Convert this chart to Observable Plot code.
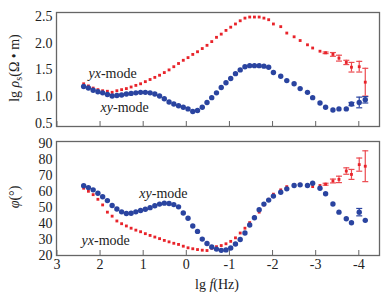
<!DOCTYPE html>
<html><head><meta charset="utf-8">
<script src="https://cdn.jsdelivr.net/npm/d3@7"></script>
<script src="https://cdn.jsdelivr.net/npm/@observablehq/plot@0.6"></script>
<style>
body{margin:0;background:#fff}
#chart{width:392px;height:303px;font-family:"Liberation Serif","Times New Roman",serif}
#chart svg{display:block;font-family:"Liberation Serif","Times New Roman",serif !important}
#chart svg text{font-family:"Liberation Serif","Times New Roman",serif}
</style>
</head><body><div id="chart"></div>
<script>
// log10 frequency (Hz)
const lgf = [2.38, 2.27, 2.16, 2.05, 1.94, 1.83, 1.72, 1.61, 1.50, 1.39,
 1.28, 1.17, 1.06, 0.95, 0.84, 0.73, 0.62, 0.51, 0.40, 0.29,
 0.18, 0.07, -0.04, -0.15, -0.26, -0.37, -0.48, -0.59, -0.70, -0.81,
 -0.92, -1.03, -1.14, -1.25, -1.36, -1.47, -1.58, -1.69, -1.80, -1.91,
 -2.02, -2.19, -2.33, -2.50, -2.64, -2.81, -2.93, -3.10, -3.23, -3.40,
 -3.54, -3.71, -3.83, -4.01, -4.15];
// lg apparent resistivity, yx-mode
const rhoYX = [1.24, 1.20, 1.16, 1.13, 1.11, 1.10, 1.08, 1.11, 1.13, 1.15,
 1.18, 1.21, 1.24, 1.28, 1.32, 1.36, 1.40, 1.45, 1.50, 1.56,
 1.62, 1.68, 1.73, 1.79, 1.84, 1.90, 1.96, 2.03, 2.11, 2.17,
 2.24, 2.30, 2.36, 2.42, 2.47, 2.49, 2.49, 2.49, 2.47, 2.44,
 2.36, 2.31, 2.19, 2.12, 2.05, 1.97, 1.91, 1.85, 1.82, 1.79,
 1.72, 1.64, 1.55, 1.56, 1.27];
const errRhoYX = [0,0,0,0,0,0,0,0,0,0, 0,0,0,0,0,0,0,0,0,0,
 0,0,0,0,0,0,0,0,0,0, 0,0,0,0,0,0,0,0,0,0,
 0,0,0,0,0,0,0,0,0.015,0.035, 0.055,0.04,0.09,0.10,0.26];
// lg apparent resistivity, xy-mode
const rhoXY = [1.19, 1.16, 1.12, 1.09, 1.07, 1.04, 1.01, 1.02, 1.03, 1.05,
 1.06, 1.07, 1.08, 1.08, 1.07, 1.05, 1.01, 0.96, 0.90, 0.86,
 0.83, 0.80, 0.77, 0.72, 0.74, 0.80, 0.89, 0.98, 1.07, 1.17,
 1.26, 1.34, 1.43, 1.50, 1.56, 1.58, 1.58, 1.58, 1.57, 1.55,
 1.45, 1.38, 1.30, 1.24, 1.15, 1.08, 0.98, 0.88, 0.80, 0.75,
 0.77, 0.77, 0.86, 0.89, 0.94];
const errRhoXY = [0,0,0,0,0,0,0,0,0,0, 0,0,0,0,0,0,0,0,0,0,
 0,0,0,0,0,0,0,0,0,0, 0,0,0,0,0,0,0,0,0,0,
 0,0,0,0,0,0,0,0,0,0, 0,0,0.03,0.10,0.06];
// phase, yx-mode
const phiYX = [61.9, 60.0, 57.9, 55.0, 51.5, 47.0, 44.5, 41.5, 39.8, 38.4,
 37.0, 35.8, 34.8, 33.6, 32.5, 31.5, 30.5, 29.4, 28.5, 27.6,
 26.9, 25.8, 24.8, 24.2, 23.7, 23.3, 23.1, 24.5, 25.5, 26.2,
 27.3, 28.8, 31.0, 34.0, 37.0, 40.5, 44.0, 47.0, 51.5, 55.0,
 58.2, 60.9, 62.9, 64.0, 64.4, 64.0, 62.9, 63.6, 64.4, 66.4,
 67.4, 72.6, 70.5, 76.6, 75.6];
const errPhiYX = [0,0,0,0,0,0,0,0,0,0, 0,0,0,0,0,0,0,0,0,0,
 0,0,0,0,0,0,0,0,0,0, 0,0,0,0,0,0,0,0,0,0,
 0,0,0,0,0,0,0,0,0.6,1.2, 2.0,2.0,3.1,4.1,9.6];
// phase, xy-mode
const phiXY = [63.5, 62.3, 60.9, 58.8, 56.6, 54.2, 51.1, 49.0, 47.2, 46.2,
 46.3, 47.2, 48.0, 48.8, 49.8, 51.0, 52.0, 52.6, 52.4, 51.7,
 50.3, 46.5, 43.2, 38.4, 35.0, 30.2, 27.5, 25.3, 24.0, 23.2,
 23.5, 24.7, 27.2, 30.0, 34.0, 39.0, 43.5, 48.5, 52.0, 54.5,
 57.0, 59.4, 61.5, 63.6, 64.0, 63.6, 65.0, 61.9, 58.5, 52.1,
 47.0, 42.9, 40.4, 47.0, 41.9];
const errPhiXY = [0,0,0,0,0,0,0,0,0,0, 0,0,0,0,0,0,0,0,0,0,
 0,0,0,0,0,0,0,0,0,0, 0,0,0,0,0,0,0,0,0,0,
 0,0,0,0,0,0,0,0,0,0, 0,0,0,2.3,0];

const xTicks = [3, 2, 1, 0, -1, -2, -3, -4];
const rhoTicks = [0.5, 1.0, 1.5, 2.0, 2.5];
const phiTicks = [20, 30, 40, 50, 60, 70, 80, 90];
// mode annotations
const rhoNoteModes = ["yx", "xy"];
const rhoNoteF = [1.98, 1.70];
const rhoNoteV = [1.43, 0.79];
const phiNoteModes = ["xy", "yx"];
const phiNoteF = [0.80, 2.14];
const phiNoteV = [58.8, 29.3];

const RED = "#e8232a", RED_ERR = "#ec4a50", BLUE = "#2a44a0";
const FONT = '"Liberation Serif","Times New Roman",serif';

const rows = lgf.map((f, i) => ({
  f, rYX: rhoYX[i], eRYX: errRhoYX[i], rXY: rhoXY[i], eRXY: errRhoXY[i],
  pYX: phiYX[i], ePYX: errPhiYX[i], pXY: phiXY[i], ePXY: errPhiXY[i]
}));
const rhoNotes = rhoNoteModes.map((m, i) => ({m, f: rhoNoteF[i], v: rhoNoteV[i]}));
const phiNotes = phiNoteModes.map((m, i) => ({m, f: phiNoteF[i], v: phiNoteV[i]}));

const capSymbol = {draw(ctx, size) { const w = Math.sqrt(size / Math.PI); ctx.moveTo(-w, 0); ctx.lineTo(w, 0); }};

function errMarks(v, e, color) {
  const d = rows.filter(r => r[e] > 0);
  return [
    Plot.ruleX(d, {x: "f", y1: r => r[v] - r[e], y2: r => r[v] + r[e], stroke: color, strokeWidth: 1.2}),
    Plot.dot(d, {x: "f", y: r => r[v] - r[e], symbol: capSymbol, r: 3, stroke: color, fill: "none", strokeWidth: 1.2}),
    Plot.dot(d, {x: "f", y: r => r[v] + r[e], symbol: capSymbol, r: 3, stroke: color, fill: "none", strokeWidth: 1.2})
  ];
}
function noteMarks(notes) {
  return [
    Plot.text(notes, {x: "f", y: "v", text: "m", textAnchor: "end", fontStyle: "italic", fontSize: 14, fill: "#222"}),
    Plot.text(notes, {x: "f", y: "v", text: () => "-mode", textAnchor: "start", fontSize: 14, fill: "#222"})
  ];
}

const xDomain = [3.01, -4.48];
const common = {width: 392, marginLeft: 56, marginRight: 13,
  style: `font-family: ${FONT}; font-size: 14px; color: #222; background: white;`};

const rhoChart = Plot.plot({
  ...common, height: 133, marginTop: 12, marginBottom: 7,
  x: {domain: xDomain}, y: {domain: [0.44, 2.575]},
  marks: [
    Plot.axisX({ticks: xTicks, tickSize: -5, tickFormat: () => "", label: null, stroke: "#666"}),
    Plot.axisY({ticks: rhoTicks, tickSize: 0, tickPadding: 4, tickFormat: d3.format(".1f"), label: null}),
    ...errMarks("rYX", "eRYX", RED_ERR),
    Plot.dot(rows, {x: "f", y: "rYX", symbol: "square", r: 1.6, fill: RED}),
    ...errMarks("rXY", "eRXY", BLUE),
    Plot.dot(rows, {x: "f", y: "rXY", r: 2.7, fill: BLUE}),
    ...noteMarks(rhoNotes),
    Plot.frame({stroke: "#666", strokeWidth: 1.3})
  ]
});

const phiChart = Plot.plot({
  ...common, height: 170, marginTop: 8, marginBottom: 48,
  x: {domain: xDomain}, y: {domain: [20, 91]},
  marks: [
    Plot.axisX({ticks: xTicks, tickSize: -5, tickPadding: 9, tickFormat: d => String(d), label: null, stroke: "#666"}),
    Plot.axisY({ticks: phiTicks, tickSize: 0, tickPadding: 4, label: null}),
    ...errMarks("pYX", "ePYX", RED_ERR),
    Plot.dot(rows, {x: "f", y: "pYX", symbol: "square", r: 1.6, fill: RED}),
    ...errMarks("pXY", "ePXY", BLUE),
    Plot.dot(rows, {x: "f", y: "pXY", r: 2.7, fill: BLUE}),
    ...noteMarks(phiNotes),
    Plot.frame({stroke: "#666", strokeWidth: 1.3})
  ]
});

// Axis titles with italic parts
const tt = d3.select(rhoChart).append("text")
  .attr("transform", "translate(19,68) rotate(-90)")
  .attr("text-anchor", "middle").attr("font-size", 14).attr("fill", "#222");
tt.append("tspan").text("lg ");
tt.append("tspan").attr("font-style", "italic").text("ρ");
tt.append("tspan").attr("font-size", 10).attr("dy", 3).text("s");
tt.append("tspan").attr("dy", -3).text("(Ω • m)");

const bt = d3.select(phiChart).append("text")
  .attr("transform", "translate(19,64) rotate(-90)")
  .attr("text-anchor", "middle").attr("font-size", 14).attr("fill", "#222");
bt.append("tspan").attr("font-style", "italic").text("φ");
bt.append("tspan").text("(°)");

const xt = d3.select(phiChart).append("text")
  .attr("x", 217).attr("y", 156)
  .attr("text-anchor", "middle").attr("font-size", 14).attr("fill", "#222");
xt.append("tspan").text("lg ");
xt.append("tspan").attr("font-style", "italic").text("f");
xt.append("tspan").text("(Hz)");

document.getElementById("chart").append(rhoChart, phiChart);
</script>
</body></html>
